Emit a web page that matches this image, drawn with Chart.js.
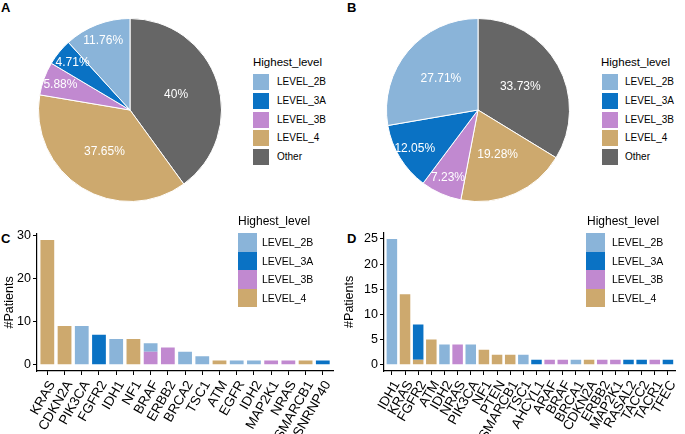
<!DOCTYPE html>
<html>
<head>
<meta charset="utf-8">
<script src="https://cdn.jsdelivr.net/npm/chart.js@4.4.1/dist/chart.umd.min.js"></script>
<style>
  body { margin: 0; background: #fff; font-family: "Liberation Sans", Arial, sans-serif; }
  #wrap { position: relative; width: 685px; height: 434px; overflow: hidden; background: #fff; }
  canvas, .abs { position: absolute; }
  .tag { position: absolute; font-weight: bold; font-size: 13px; line-height: 13px; color: #000; }
  .lt, .ll { position: absolute; white-space: nowrap; color: #000; }
  .key { position: absolute; }
</style>
</head>
<body>
<div id="wrap">
  <div class="tag" style="left:1px;top:1px">A</div>
  <div class="tag" style="left:347px;top:1px">B</div>
  <div class="tag" style="left:1px;top:232px">C</div>
  <div class="tag" style="left:347px;top:232px">D</div>
  <canvas id="pieA" width="190" height="190" style="left:35px;top:15px"></canvas>
  <canvas id="pieB" width="190" height="190" style="left:383px;top:15px"></canvas>
  <canvas id="barC" width="340" height="219" style="left:0px;top:215px"></canvas>
  <canvas id="barD" width="345" height="219" style="left:340px;top:215px"></canvas>
</div>
<script>
const FONT = '"Liberation Sans", Arial, sans-serif';

// legend order
const pieLevels = ["LEVEL_2B", "LEVEL_3A", "LEVEL_3B", "LEVEL_4", "Other"];
const pieColors = ["#8ab4d9", "#0a72c4", "#c189d0", "#cda96e", "#666666"];
const pieA = [11.76, 4.71, 5.88, 37.65, 40];
const pieB = [27.71, 12.05, 7.23, 19.28, 33.73];

const barLevels = ["LEVEL_2B", "LEVEL_3A", "LEVEL_3B", "LEVEL_4"];
const barColors = ["#8ab4d9", "#0a72c4", "#c189d0", "#cda96e"];

const genesC = ["KRAS", "CDKN2A", "PIK3CA", "FGFR2", "IDH1", "NF1", "BRAF", "ERBB2", "BRCA2",
  "TSC1", "ATM", "EGFR", "IDH2", "MAP2K1", "NRAS", "SMARCB1", "SNRNP40"];
const c2B = [0, 0, 9, 0, 6, 0, 2, 0, 3, 2, 0, 1, 1, 0, 0, 0, 0];
const c3A = [0, 0, 0, 7, 0, 0, 0, 0, 0, 0, 0, 0, 0, 0, 0, 0, 1];
const c3B = [0, 0, 0, 0, 0, 0, 3, 4, 0, 0, 0, 0, 0, 1, 1, 0, 0];
const c4 = [29, 9, 0, 0, 0, 6, 0, 0, 0, 0, 1, 0, 0, 0, 0, 1, 0];
const ticksC = [0, 10, 20, 30];

const genesD = ["IDH1", "KRAS", "FGFR2", "ATM", "IDH2", "NRAS", "PIK3CA", "NF1", "PTEN", "SMARCB1",
  "TSC1", "AHCYL1", "ARAF", "BRAF", "BRCA1", "CDKN2A", "ERBB2", "MAP2K1", "RASAL2", "TACC2", "TACR1", "TFEC"];
const d2B = [25, 0, 0, 0, 4, 0, 4, 0, 0, 0, 2, 0, 0, 0, 1, 0, 0, 0, 0, 0, 0, 0];
const d3A = [0, 0, 7, 0, 0, 0, 0, 0, 0, 0, 0, 1, 0, 0, 0, 0, 0, 0, 1, 1, 0, 1];
const d3B = [0, 0, 0, 0, 0, 4, 0, 0, 0, 0, 0, 0, 1, 1, 0, 0, 1, 1, 0, 0, 1, 0];
const d4 = [0, 14, 1, 5, 0, 0, 0, 3, 2, 2, 0, 0, 0, 0, 0, 1, 0, 0, 0, 0, 0, 0];
const ticksD = [0, 5, 10, 15, 20, 25];

// percent labels inside the pie slices
const pctLabels = {
  id: "pctLabels",
  afterDatasetsDraw(chart) {
    const ctx = chart.ctx;
    const vals = chart.data.datasets[0].data;
    ctx.save();
    ctx.fillStyle = "#fff";
    ctx.font = "12px " + FONT;
    ctx.textAlign = "center";
    ctx.textBaseline = "middle";
    chart.getDatasetMeta(0).data.forEach((arc, i) => {
      const p = arc.getProps(["x", "y", "startAngle", "endAngle", "outerRadius"]);
      const mid = (p.startAngle + p.endAngle) / 2;
      const f = vals[i] >= 15 ? 0.53 : 0.81;
      ctx.fillText(vals[i] + "%", p.x + Math.cos(mid) * p.outerRadius * f,
        p.y + Math.sin(mid) * p.outerRadius * f);
    });
    ctx.restore();
  }
};

function drawPie(id, values) {
  new Chart(document.getElementById(id), {
    type: "pie",
    data: {
      labels: pieLevels.slice().reverse(),
      datasets: [{
        data: values.slice().reverse(),
        backgroundColor: pieColors.slice().reverse(),
        borderColor: "#fff",
        borderWidth: 1
      }]
    },
    options: {
      responsive: false,
      animation: false,
      layout: { padding: 3 },
      plugins: { legend: { display: false }, tooltip: { enabled: false } }
    },
    plugins: [pctLabels]
  });
}

function drawBars(id, genes, series, yTicks, axisW, padTop, padRight) {
  const top = Math.max(...genes.map((g, i) => series.reduce((s, a) => s + a[i], 0)));
  const ex = top * 0.05;
  // stack bottom to top: LEVEL_4, LEVEL_3B, LEVEL_3A, LEVEL_2B
  const datasets = [3, 2, 1, 0].map(k => ({
    label: barLevels[k],
    data: series[k].map((v, i) => ({ x: i, y: v })),
    backgroundColor: barColors[k],
    borderWidth: 0,
    barPercentage: 0.8,
    categoryPercentage: 1
  }));
  new Chart(document.getElementById(id), {
    type: "bar",
    data: { datasets },
    options: {
      responsive: false,
      animation: false,
      layout: { padding: { top: padTop, right: padRight, left: 0, bottom: 0 } },
      plugins: { legend: { display: false }, tooltip: { enabled: false } },
      scales: {
        x: {
          type: "linear",
          stacked: true,
          offset: false,
          min: -0.6,
          max: genes.length - 0.4,
          afterBuildTicks: s => { s.ticks = genes.map((g, i) => ({ value: i })); },
          afterFit: s => { s.height = 63; },
          grid: { offset: false, drawOnChartArea: false, tickLength: 4, color: "#000" },
          border: { color: "#000", width: 1.2 },
          ticks: {
            autoSkip: false, minRotation: 60, maxRotation: 60, padding: 3, labelOffset: 5,
            color: "#000", font: { size: 13.5, family: FONT },
            callback: v => genes[v]
          }
        },
        y: {
          stacked: true,
          min: -ex,
          max: top + ex,
          afterBuildTicks: s => { s.ticks = yTicks.map(v => ({ value: v })); },
          afterFit: s => { s.width = axisW; },
          grid: { drawOnChartArea: false, tickLength: 4, color: "#000" },
          border: { color: "#000", width: 1.2 },
          ticks: { padding: 2, color: "#000", font: { size: 12.5, family: FONT } },
          title: {
            display: true, text: "#Patients", color: "#000",
            font: { size: 12.5, family: FONT }, padding: { top: 2, bottom: 0 }
          }
        }
      }
    }
  });
}

function addLegend(o) {
  const wrap = document.getElementById("wrap");
  const t = document.createElement("div");
  t.className = "lt";
  t.textContent = "Highest_level";
  t.style.cssText = `left:${o.tx}px;top:${o.ty - 8}px;font-size:${o.tSize}px;line-height:16px`;
  wrap.appendChild(t);
  o.names.forEach((n, i) => {
    const k = document.createElement("div");
    k.className = "key";
    k.style.cssText = `left:${o.kx}px;top:${o.ky + i * o.step}px;width:${o.kw}px;height:${o.kh}px;background:${o.cols[i]}`;
    wrap.appendChild(k);
    const l = document.createElement("div");
    l.className = "ll";
    l.textContent = n;
    l.style.cssText = `left:${o.lx}px;top:${o.ky + i * o.step + o.kh / 2 - 8}px;font-size:${o.lSize}px;line-height:16px`;
    wrap.appendChild(l);
  });
}

drawPie("pieA", pieA);
drawPie("pieB", pieB);
drawBars("barC", genesC, [c2B, c3A, c3B, c4], ticksC, 37, 18.8, 5);
drawBars("barD", genesD, [d2B, d3A, d3B, d4], ticksD, 44, 17.7, 1);

addLegend({ names: pieLevels, cols: pieColors, tx: 253, ty: 62, tSize: 11.5, kx: 253, ky: 74, kw: 16, kh: 16, step: 18.75, lx: 277, lSize: 10 });
addLegend({ names: pieLevels, cols: pieColors, tx: 601, ty: 62, tSize: 11.5, kx: 602, ky: 74, kw: 16, kh: 16, step: 18.75, lx: 625, lSize: 10 });
addLegend({ names: barLevels, cols: barColors, tx: 238, ty: 221, tSize: 12, kx: 238, ky: 233, kw: 18.5, kh: 18.5, step: 18.5, lx: 262, lSize: 10.5 });
addLegend({ names: barLevels, cols: barColors, tx: 587, ty: 221, tSize: 12, kx: 586, ky: 233, kw: 19, kh: 18.5, step: 18.5, lx: 612, lSize: 10.5 });
</script>
</body>
</html>
